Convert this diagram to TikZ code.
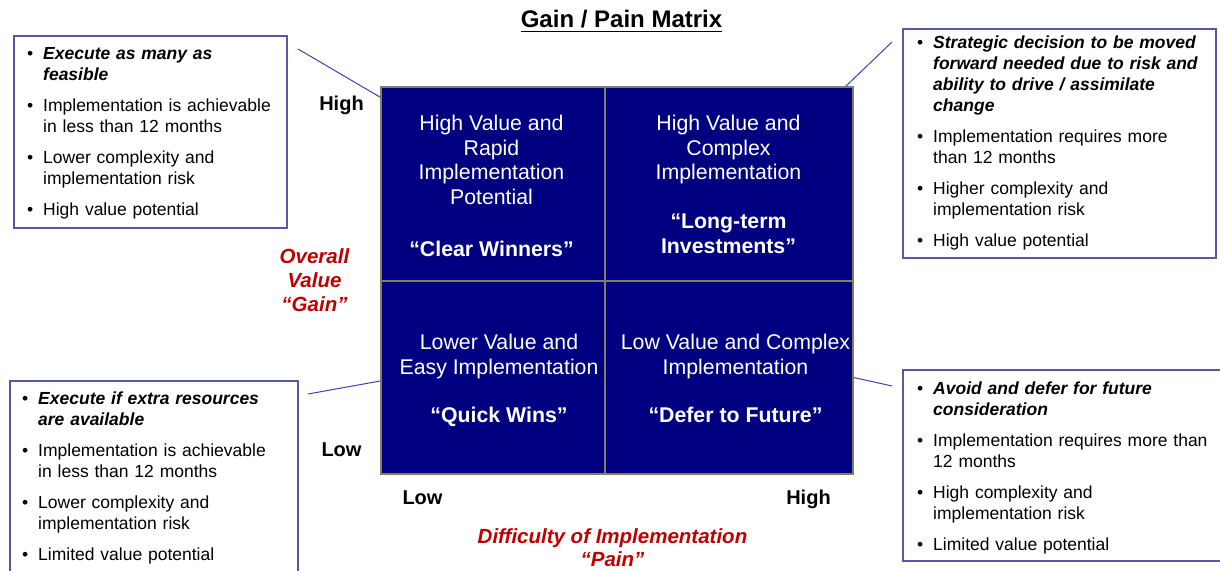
\documentclass[tikz,border=0pt]{standalone}
\usepackage{fontspec}
\setmainfont{Liberation Sans}
\definecolor{navy}{RGB}{0,0,128}
\definecolor{boxline}{RGB}{88,88,168}
\definecolor{conn}{RGB}{64,64,176}
\definecolor{gridc}{RGB}{128,128,100}
\definecolor{axred}{RGB}{192,0,0}
\newcommand{\bitem}[1]{\par\hangindent=16pt\hangafter=1\noindent\makebox[16pt][l]{\textbullet}\rule{0pt}{13pt}#1}
\tikzset{
  quad/.style={draw=gridc, line width=1.5pt, fill=navy, inner sep=0pt},
  qtext/.style={anchor=north, inner sep=0pt, text=white, align=center,
    font={\fontsize{21.3}{24.5}\selectfont}},
  infobox/.style={draw=boxline, line width=1.3pt, fill=white, inner sep=0pt},
  btext/.style={anchor=north west, inner sep=0pt, text width=330pt, align=left,
    font={\fontsize{17.5}{21}\selectfont}},
  conline/.style={draw=conn, line width=1pt},
  axlab/.style={anchor=base, inner sep=0pt, font={\fontsize{20}{24}\selectfont\bfseries}},
  redlab/.style={anchor=north, inner sep=0pt, align=center, text=axred,
    font={\fontsize{20.5}{23}\selectfont\bfseries\itshape}}
}
\begin{document}
\begin{tikzpicture}[x=1pt,y=-1pt]
\useasboundingbox (0,0) rectangle (1220,570);
% title
\node[inner sep=0pt, anchor=base, font={\fontsize{24}{28}\selectfont\bfseries}] (title) at (621.5,27.5) {Gain / Pain Matrix};
\draw[line width=1.8pt] ([yshift=-4pt]title.base west) -- ([yshift=-4pt]title.base east);
% quadrants
\node[quad, minimum width=224pt, minimum height=194pt] (q1) at (493,184) {};
\node[quad, minimum width=248pt, minimum height=194pt] (q2) at (729,184) {};
\node[quad, minimum width=224pt, minimum height=193pt] (q3) at (493,377.5) {};
\node[quad, minimum width=248pt, minimum height=193pt] (q4) at (729,377.5) {};
\node[qtext] (t1) at (491.5,113.6) {\rule{0pt}{17pt}High Value and\\Rapid\\Implementation\\Potential\\[27.5pt]\textbf{“Clear Winners”}};
\node[qtext] (t2) at (728.5,113.6) {\rule{0pt}{17pt}High Value and\\Complex\\Implementation\\[24.5pt]\textbf{“Long-term}\\\textbf{Investments”}};
\node[qtext] (t3) at (499,332.6) {\rule{0pt}{17pt}Lower Value and\\Easy Implementation\\[23.5pt]\textbf{“Quick Wins”}};
\node[qtext] (t4) at (735.5,332.6) {\rule{0pt}{17pt}Low Value and Complex\\Implementation\\[23.5pt]\textbf{“Defer to Future”}};
% axis labels
\node[axlab] (hiY) at (341.5,110) {High};
\node[axlab] (loY) at (341.5,456) {Low};
\node[axlab] (loX) at (422.5,504) {Low};
\node[axlab] (hiX) at (808.5,504) {High};
\node[redlab] (gain) at (314.5,247.5) {\rule{0pt}{16pt}Overall\\[1pt]Value\\[1pt]“Gain”};
\node[redlab] (pain) at (612.5,527) {\rule{0pt}{16pt}Difficulty of Implementation\\“Pain”};
% info boxes
\node[infobox, minimum width=273pt, minimum height=192pt] (btl) at (150.5,132) {};
\node[infobox, minimum width=313pt, minimum height=229pt] (btr) at (1059.5,143.5) {};
\node[infobox, minimum width=288pt, minimum height=219pt] (bbl) at (154,490.5) {};
\node[infobox, minimum width=327pt, minimum height=191pt] (bbr) at (1066.5,465.5) {};
\node[btext] (xtl) at (27,28.3) {\setlength{\parskip}{10pt}%
\bitem{\textbf{\textit{Execute as many as\newline feasible}}}%
\bitem{Implementation is achievable\newline in less than 12 months}%
\bitem{Lower complexity and\newline implementation risk}%
\bitem{High value potential}};
\node[btext] (xtr) at (917,17.3) {\setlength{\parskip}{10pt}%
\bitem{\textbf{\textit{Strategic decision to  be moved\newline forward needed due to risk and\newline ability to drive / assimilate\newline change}}}%
\bitem{Implementation requires more\newline than 12 months}%
\bitem{Higher complexity and\newline implementation risk}%
\bitem{High value potential}};
\node[btext] (xbl) at (22,373.3) {\setlength{\parskip}{10pt}%
\bitem{\textbf{\textit{Execute if extra resources\newline are available}}}%
\bitem{Implementation is achievable\newline in less than 12 months}%
\bitem{Lower complexity and\newline implementation risk}%
\bitem{Limited value potential}};
\node[btext] (xbr) at (917,363.3) {\setlength{\parskip}{10pt}%
\bitem{\textbf{\textit{Avoid and defer for future\newline consideration}}}%
\bitem{Implementation requires more than\newline 12 months}%
\bitem{High complexity and\newline implementation risk}%
\bitem{Limited value potential}};
% connectors
\coordinate (c1) at (298,49);
\coordinate (c2) at (892,42);
\coordinate (c3) at (308,394);
\coordinate (c4) at (892,386);
\draw[conline] (c1) -- ([yshift=-11pt]q1.north west);
\draw[conline] (c2) -- ([xshift=-8pt]q2.north east);
\draw[conline] (c3) -- ([yshift=-3.5pt]q3.west);
\draw[conline] (c4) -- (q4.east);
\end{tikzpicture}
\end{document}
